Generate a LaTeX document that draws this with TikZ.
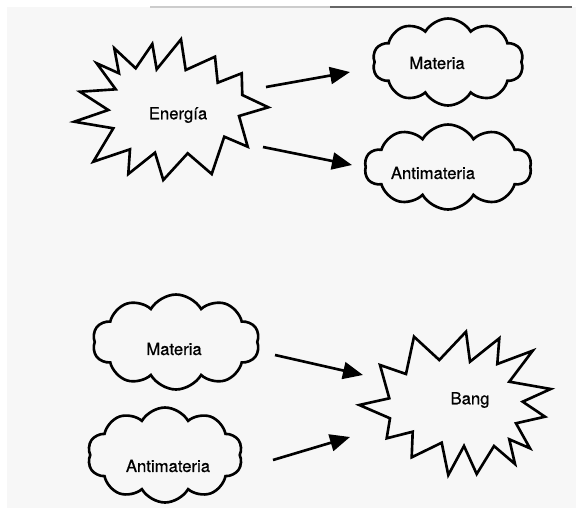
\documentclass[tikz,border=0pt]{standalone}
\usepackage{fontspec}
\setsansfont{TeX Gyre Heros}[FakeBold=0.6]
\usetikzlibrary{arrows.meta,shapes.symbols,positioning}

\begin{document}
\begin{tikzpicture}[
            x = 0.02cm, y = -0.02cm, % one unit is one pixel of the scan
            > = {Triangle[length=4mm,width=3.4mm]}, % arrow head style
            every node/.style = {font=\sffamily\fontsize{9.5}{11}\selectfont},
            burst/.style = {draw, line width=1.5pt, line join=miter},
            puff/.style = {cloud, draw, line width=1.5pt, cloud puffs=10,
                           cloud puff arc=120, inner sep=0pt},
            link/.style = {->, line width=1.5pt}
        ]

	\useasboundingbox (0,0) rectangle (576,508);
	\fill[black!3] (7,7) rectangle (576,508);
	\draw[black!20, line width=0.8pt] (150,7) -- (330,7);
	\draw[black!60, line width=0.8pt] (330,7) -- (572,7);

	% top: energy splits
	\draw[burst] (114.3,48.3) -- (135.7,68.3) -- (152.3,44) -- (156.7,69.3)
		-- (181,39.3) -- (185.7,70) -- (215,56.7) -- (217.7,82.7) -- (241.7,73.3)
		-- (242.3,95) -- (268.3,107.3) -- (239,116) -- (247.7,146.7) -- (224.3,136.7)
		-- (211.7,174) -- (187.7,153.3) -- (163.3,180) -- (155,152.7) -- (128.3,174)
		-- (130,149.3) -- (93.3,161.7) -- (113.3,128.3) -- (74.3,121.7) -- (108.3,110)
		-- (80,91.7) -- (115.7,89.3) -- (96.7,63.3) -- (119,73.3) -- cycle;
	\node (E) at (178,115) {Energía};
	\node[puff, minimum width=3.02cm, minimum height=1.74cm] (M1) at (448,62) {};
	\node (M1t) at (437,63) {Materia};
	\node[puff, minimum width=3.34cm, minimum height=1.7cm] (A1) at (448,167) {};
	\node (A1t) at (433,173) {Antimateria};

	\draw[link] ([shift={(88,-28)}]E.center) -- ([shift={(-98,10)}]M1.center);
	\draw[link] ([shift={(85,32)}]E.center) -- ([shift={(-96,-2)}]A1.center);

	% bottom: matter and antimatter meet
	\node[puff, minimum width=3.34cm, minimum height=1.9cm] (M2) at (176,342) {};
	\node (M2t) at (174,349) {Materia};
	\node[puff, minimum width=3.1cm, minimum height=1.9cm] (A2) at (165,455) {};
	\node (A2t) at (168,466) {Antimateria};
	\draw[burst] (380,365) -- (406,374) -- (414,336.7) -- (439.3,360) -- (466,331.7)
		-- (470,361.7) -- (499.3,338.3) -- (497.3,364) -- (532.7,350.7) -- (509.3,381.7)
		-- (550.7,389) -- (522.7,401.7) -- (545,416.7) -- (516,423.3) -- (530,448.3)
		-- (509.3,439.3) -- (515,464) -- (494,446) -- (476.7,474) -- (464,446)
		-- (448.3,475) -- (441.7,442.7) -- (411.7,457.3) -- (412.7,431.7) -- (386.7,438.3)
		-- (390,418.3) -- (359.3,405) -- (389.3,398.3) -- cycle;
	\node (B) at (470,400) {Bang};

	\draw[link] ([shift={(99,13)}]M2.center) -- ([shift={(-107,-25)}]B.center);
	\draw[link] ([shift={(108,5)}]A2.center) -- ([shift={(-120,37)}]B.center);

\end{tikzpicture}
\end{document}
